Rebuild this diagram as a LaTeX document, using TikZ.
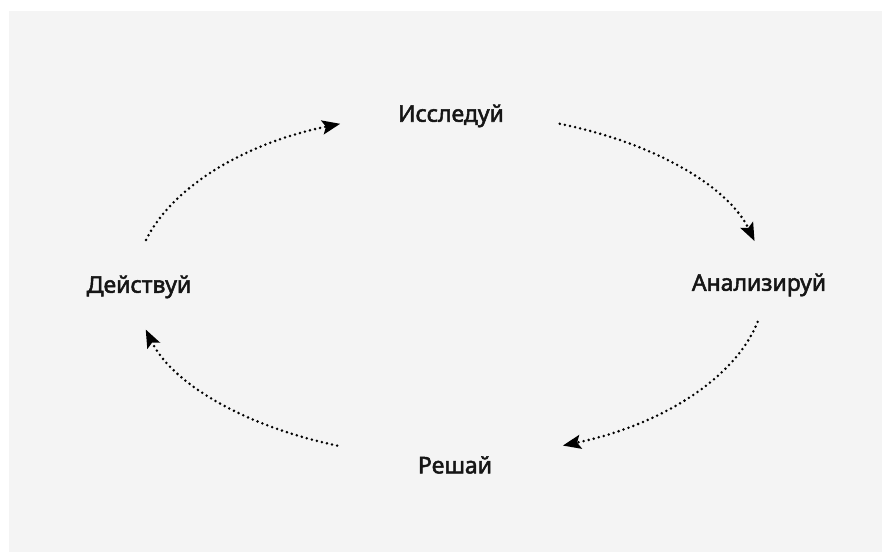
\documentclass[tikz,border=0pt]{standalone}
\usepackage{fontspec}
\setmainfont{Noto Sans}
\newfontfamily\lblfont{Noto Sans}[FakeBold=2.2]
\usetikzlibrary{arrows.meta,calc}
\definecolor{bgc}{HTML}{F4F4F4}
\definecolor{txt}{HTML}{161616}
\tikzset{
  lbl/.style={font=\lblfont\fontsize{23}{27}\selectfont, text=txt, inner sep=0pt},
  flow/.style={line width=2.8pt, dash pattern=on 0pt off 5.2pt, line cap=round,
    -{Stealth[length=18pt,width=14pt,inset=3.5pt]}},
  er/.style={x radius=315pt, y radius=172pt}
}
\begin{document}
\begin{tikzpicture}[x=1pt,y=1pt]
\useasboundingbox (0,0) rectangle (882,552);
\fill[bgc] (9,0) rectangle (882,541);
\coordinate (o) at (450,267);
\node[lbl] (res) at (451,436) {Исследуй};
\node[lbl] (ana) at (759,267) {Анализируй};
\node[lbl] (dec) at (455,87) {Решай};
\node[lbl] (act) at (139,265) {Действуй};
\coordinate (s1) at ($(o)+(164.8:315 and 172)$);
\coordinate (s2) at ($(o)+(69.6:315 and 172)$);
\coordinate (s3) at ($(o)+(-12.4:315 and 172)$);
\coordinate (s4) at ($(o)+(-111:315 and 172)$);
\draw[flow] (s1) arc[start angle=164.8, end angle=110.4, er];
\draw[flow] (s2) arc[start angle=69.6, end angle=14.8, er];
\draw[flow] (s3) arc[start angle=-12.4, end angle=-69, er];
\draw[flow] (s4) arc[start angle=-111, end angle=-165, er];
\end{tikzpicture}
\end{document}
